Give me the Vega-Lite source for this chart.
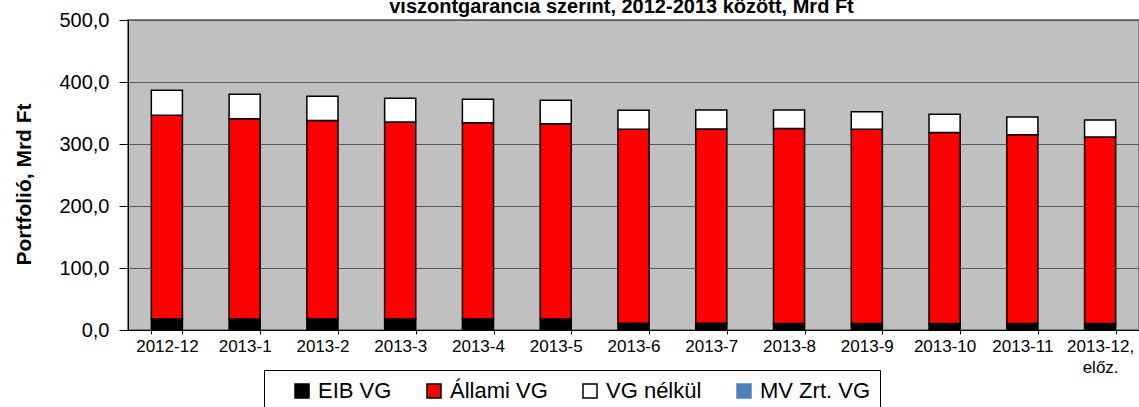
{
  "$schema": "https://vega.github.io/schema/vega-lite/v6.json",
  "width": 1011,
  "height": 310,
  "autosize": {"type": "none"},
  "padding": {"left": 128, "top": 20, "right": 0, "bottom": 77},
  "background": "white",
  "title": {
    "text": "viszontgarancia szerint, 2012-2013 között, Mrd Ft",
    "font": "Liberation Sans",
    "fontSize": 20,
    "fontWeight": "bold",
    "color": "black",
    "anchor": "middle",
    "dx": -12,
    "dy": 25,
    "offset": 2,
    "baseline": "alphabetic"
  },
  "config": {
    "font": "Liberation Sans",
    "view": {"fill": "#C0C0C0", "stroke": "#808080", "strokeWidth": 2}
  },
  "data": {
    "values": [
      {"month": "2012-12", "series": "EIB VG", "value": 17.7},
      {"month": "2012-12", "series": "Állami VG", "value": 328.5},
      {"month": "2012-12", "series": "VG nélkül", "value": 40.4},
      {"month": "2013-1", "series": "EIB VG", "value": 17.7},
      {"month": "2013-1", "series": "Állami VG", "value": 323.2},
      {"month": "2013-1", "series": "VG nélkül", "value": 39.2},
      {"month": "2013-2", "series": "EIB VG", "value": 17.7},
      {"month": "2013-2", "series": "Állami VG", "value": 320.4},
      {"month": "2013-2", "series": "VG nélkül", "value": 38.8},
      {"month": "2013-3", "series": "EIB VG", "value": 17.7},
      {"month": "2013-3", "series": "Állami VG", "value": 317.7},
      {"month": "2013-3", "series": "VG nélkül", "value": 38.3},
      {"month": "2013-4", "series": "EIB VG", "value": 17.7},
      {"month": "2013-4", "series": "Állami VG", "value": 316.7},
      {"month": "2013-4", "series": "VG nélkül", "value": 37.7},
      {"month": "2013-5", "series": "EIB VG", "value": 17.7},
      {"month": "2013-5", "series": "Állami VG", "value": 315.1},
      {"month": "2013-5", "series": "VG nélkül", "value": 37.6},
      {"month": "2013-6", "series": "EIB VG", "value": 10.7},
      {"month": "2013-6", "series": "Állami VG", "value": 312.9},
      {"month": "2013-6", "series": "VG nélkül", "value": 30.7},
      {"month": "2013-7", "series": "EIB VG", "value": 10.7},
      {"month": "2013-7", "series": "Állami VG", "value": 313.4},
      {"month": "2013-7", "series": "VG nélkül", "value": 30.7},
      {"month": "2013-8", "series": "EIB VG", "value": 10.5},
      {"month": "2013-8", "series": "Állami VG", "value": 314.7},
      {"month": "2013-8", "series": "VG nélkül", "value": 29.6},
      {"month": "2013-9", "series": "EIB VG", "value": 10.5},
      {"month": "2013-9", "series": "Állami VG", "value": 313.1},
      {"month": "2013-9", "series": "VG nélkül", "value": 28.6},
      {"month": "2013-10", "series": "EIB VG", "value": 10.3},
      {"month": "2013-10", "series": "Állami VG", "value": 308.4},
      {"month": "2013-10", "series": "VG nélkül", "value": 29.1},
      {"month": "2013-11", "series": "EIB VG", "value": 10.3},
      {"month": "2013-11", "series": "Állami VG", "value": 304.7},
      {"month": "2013-11", "series": "VG nélkül", "value": 28.5},
      {"month": "2013-12, előz.", "series": "EIB VG", "value": 10.3},
      {"month": "2013-12, előz.", "series": "Állami VG", "value": 300.9},
      {"month": "2013-12, előz.", "series": "VG nélkül", "value": 27.4}
    ]
  },
  "transform": [
    {"calculate": "indexof(['EIB VG','Állami VG','VG nélkül','MV Zrt. VG'], datum.series)", "as": "rank"}
  ],
  "mark": {"type": "bar", "stroke": "black", "strokeWidth": 1.5},
  "encoding": {
    "x": {
      "field": "month",
      "type": "nominal",
      "sort": null,
      "scale": {"paddingInner": 0.6, "paddingOuter": 0.3},
      "axis": {
        "title": null,
        "labelAngle": 0,
        "labelFontSize": 17,
        "labelColor": "black",
        "labelPadding": 4,
        "labelLineHeight": 21,
        "labelExpr": "datum.value === '2013-12, előz.' ? ['2013-12,', 'előz.'] : datum.label",
        "tickBand": "extent",
        "tickSize": 4,
        "tickColor": "black",
        "domainColor": "black",
        "grid": false
      }
    },
    "y": {
      "field": "value",
      "type": "quantitative",
      "stack": "zero",
      "scale": {"domain": [0, 500], "nice": false},
      "axis": {
        "title": "Portfolió, Mrd Ft",
        "titleFontSize": 21,
        "titleFontWeight": "bold",
        "titleColor": "black",
        "titlePadding": 24,
        "titleY": 164,
        "values": [0, 100, 200, 300, 400, 500],
        "labelExpr": "replace(format(datum.value, '.1f'), '.', ',')",
        "labelFontSize": 20,
        "labelColor": "black",
        "labelPadding": 10,
        "tickSize": 9,
        "tickColor": "black",
        "domainColor": "black",
        "gridColor": "#595959",
        "gridWidth": 1
      }
    },
    "color": {
      "field": "series",
      "type": "nominal",
      "scale": {
        "domain": ["EIB VG", "Állami VG", "VG nélkül", "MV Zrt. VG"],
        "range": ["#000000", "#FF0000", "#FFFFFF", "#4F81BD"]
      },
      "legend": {
        "orient": "none",
        "legendX": 136,
        "legendY": 350,
        "direction": "horizontal",
        "columns": 4,
        "columnPadding": 31,
        "title": " ",
        "titleOrient": "left",
        "titleFontSize": 1,
        "titlePadding": 17,
        "labelFontSize": 22,
        "labelColor": "black",
        "labelLimit": 0,
        "labelOffset": 5,
        "symbolType": "square",
        "symbolSize": 196,
        "symbolStrokeWidth": 1.5,
        "symbolStrokeColor": "black",
        "symbolOpacity": 1,
        "padding": 10,
        "strokeColor": "black",
        "fillColor": "white",
        "encode": {
          "symbols": {
            "update": {
              "stroke": {"signal": "datum.value === 'MV Zrt. VG' ? '#4F81BD' : 'black'"}
            }
          }
        }
      }
    },
    "order": {"field": "rank", "type": "quantitative", "sort": "ascending"}
  }
}
